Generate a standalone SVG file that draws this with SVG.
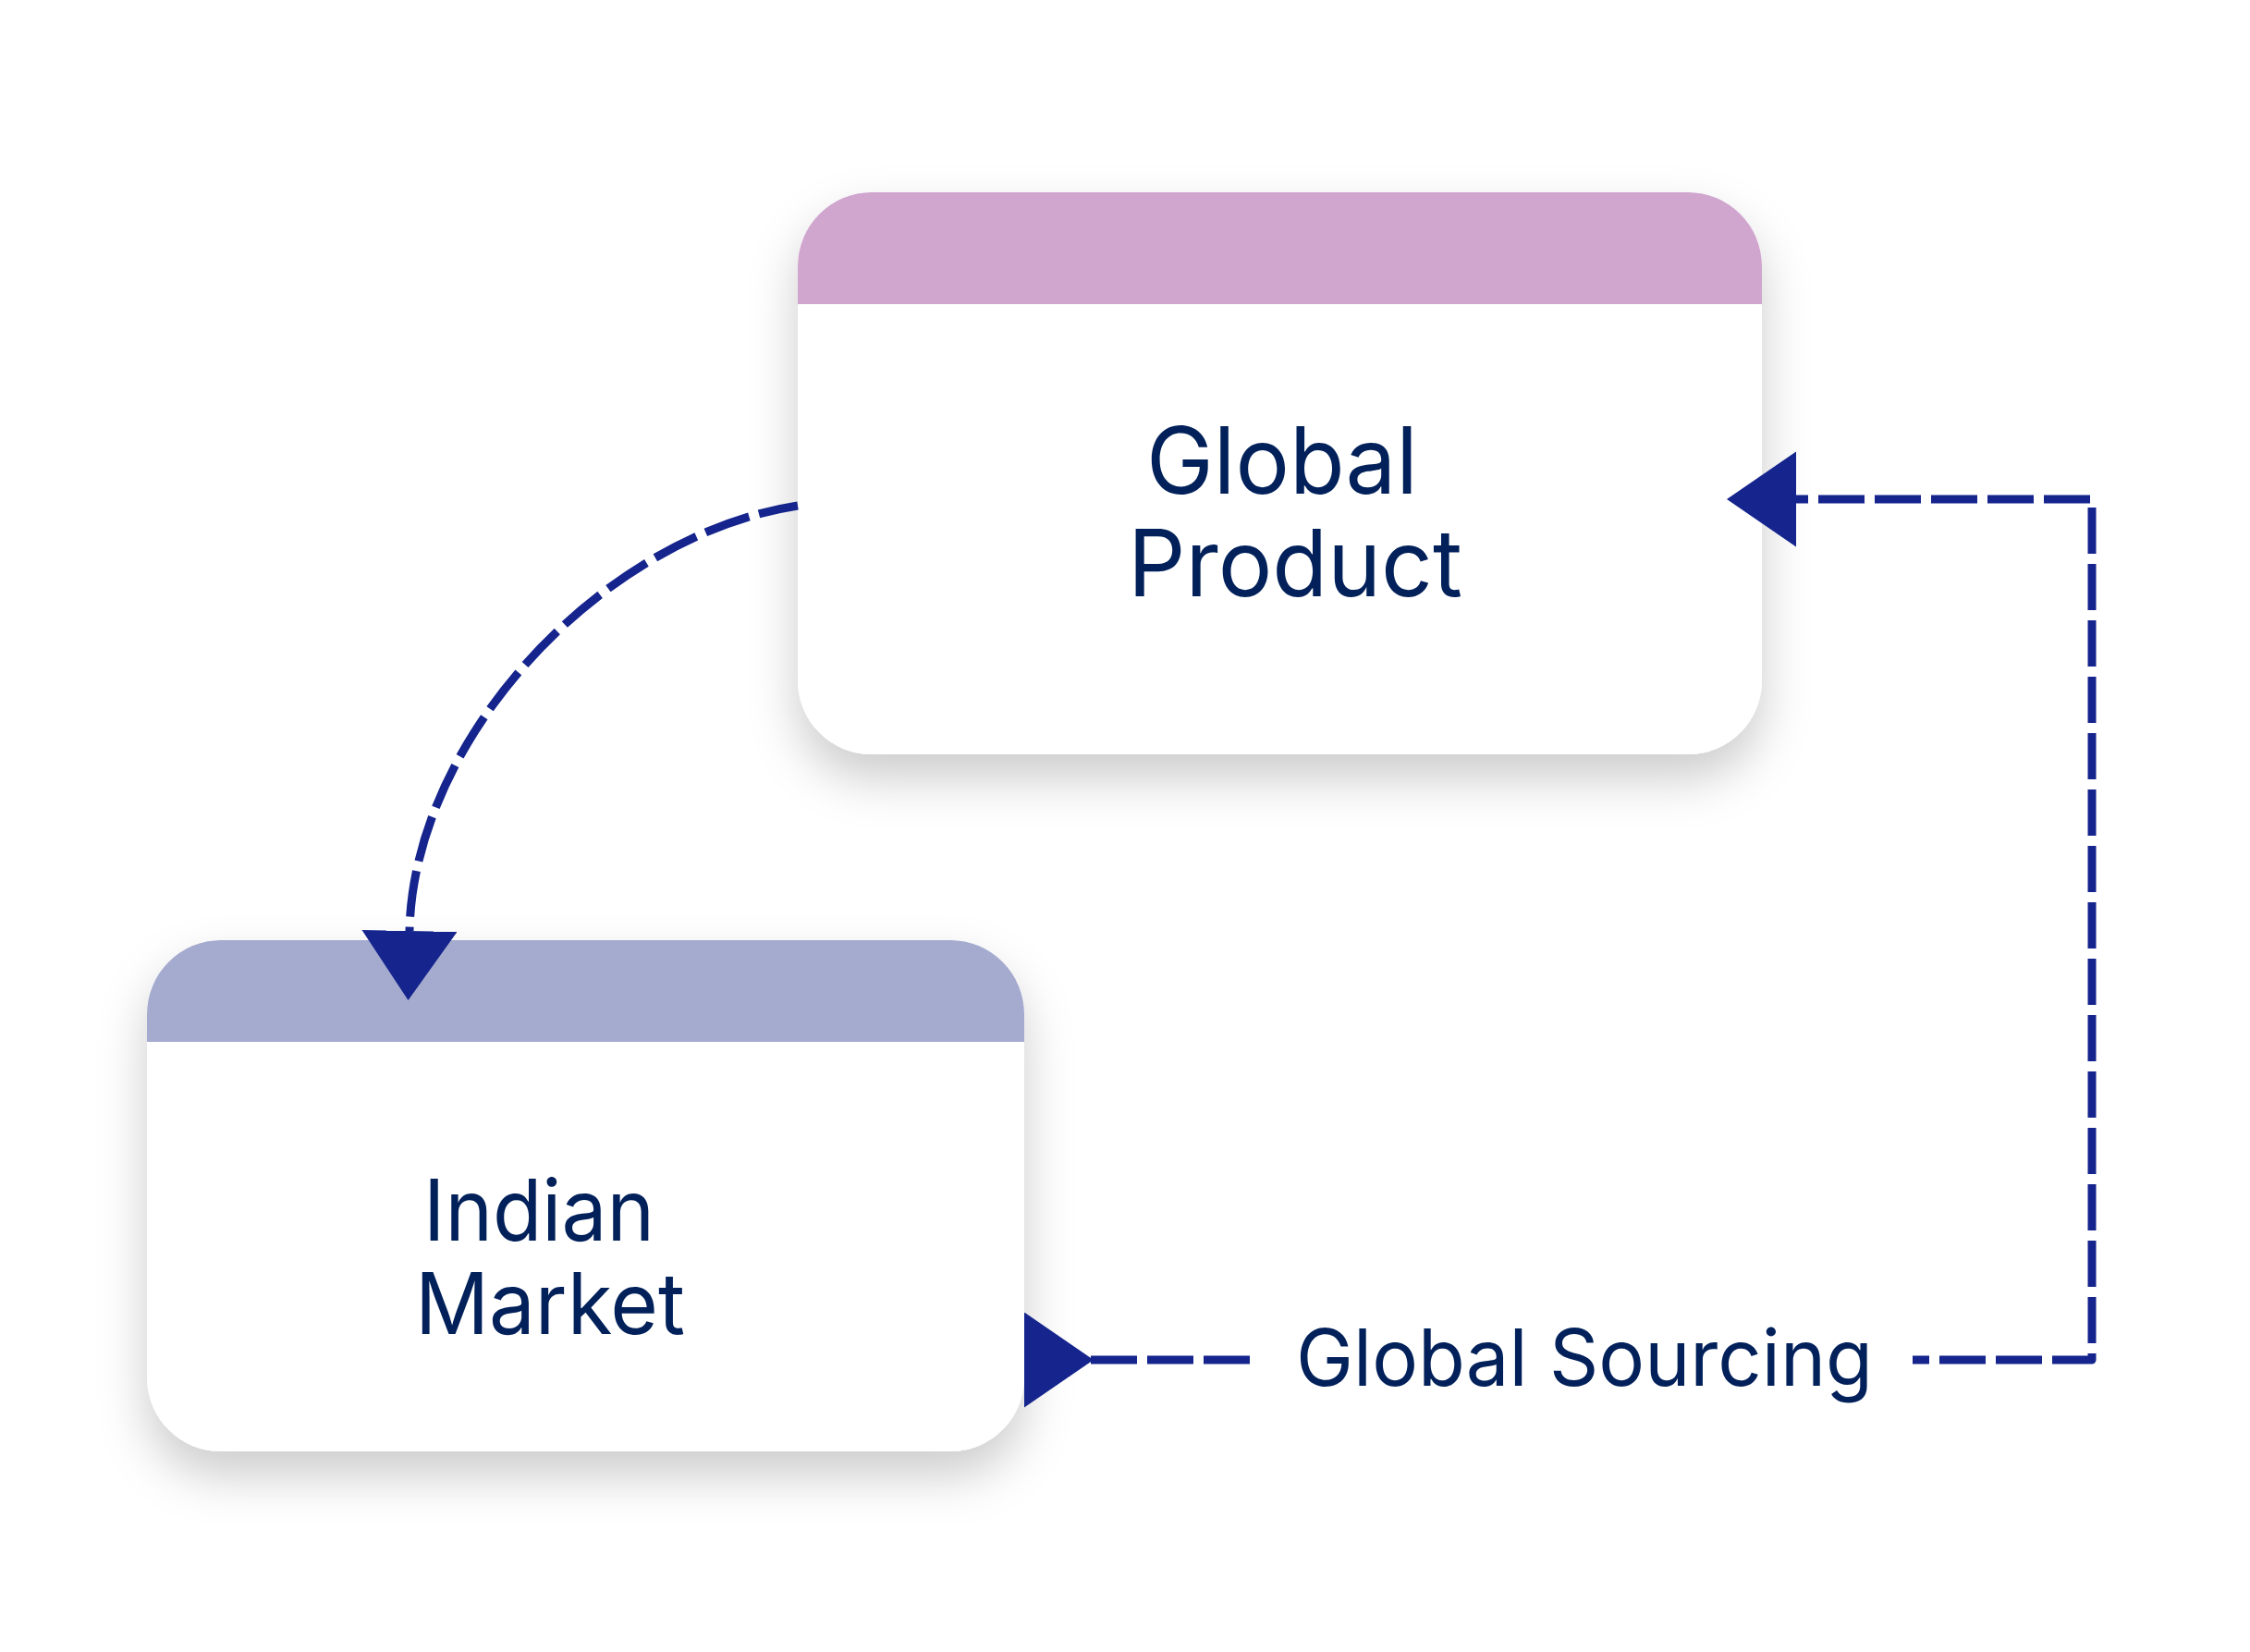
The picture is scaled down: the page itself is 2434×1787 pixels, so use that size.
<svg xmlns="http://www.w3.org/2000/svg" width="2434" height="1787" viewBox="0 0 2434 1787">
  <defs>
    <filter id="shadow" x="-20%" y="-20%" width="140%" height="160%">
      <feDropShadow dx="0" dy="26" stdDeviation="26" flood-color="#000000" flood-opacity="0.2"/>
    </filter>
    <marker id="arrow" markerUnits="userSpaceOnUse" markerWidth="80" markerHeight="110" refX="0" refY="51.5" orient="auto" viewBox="0 0 80 110">
      <path d="M0,0 L75,51.5 L0,103 Z" fill="#15258D"/>
    </marker>
    <style>
      .body { fill: #ffffff; }
      .label { font-family: Inter, "Liberation Sans", sans-serif; fill: #02215A; text-anchor: middle; }
      .edge { fill: none; stroke: #15258D; stroke-width: 9; stroke-dasharray: 50 11; stroke-linejoin: round; }
    </style>
  </defs>
  <rect width="2434" height="1787" fill="#ffffff"/>

  <g id="node-global-product">
    <rect class="body" x="863" y="208" width="1043" height="608" rx="80" ry="80" filter="url(#shadow)"/>
    <path d="M863,288 A80,80 0 0 1 943,208 H1826 A80,80 0 0 1 1906,288 V329 H863 Z" fill="#D0A6CF"/>
    <text class="label" font-size="100" x="1387" y="534" textLength="294" lengthAdjust="spacingAndGlyphs">Global</text>
    <text class="label" font-size="100" x="1401" y="645" textLength="362" lengthAdjust="spacingAndGlyphs">Product</text>
  </g>

  <g id="node-indian-market">
    <rect class="body" x="159" y="1017" width="949" height="553" rx="80" ry="80" filter="url(#shadow)"/>
    <path d="M159,1097 A80,80 0 0 1 239,1017 H1028 A80,80 0 0 1 1108,1097 V1127 H159 Z" fill="#A5ABCF"/>
    <text class="label" font-size="92" x="583" y="1342" textLength="250" lengthAdjust="spacingAndGlyphs">Indian</text>
    <text class="label" font-size="92" x="595" y="1443" textLength="292" lengthAdjust="spacingAndGlyphs">Market</text>
  </g>

  <g id="connectors">
    <path class="edge" d="M863,547 C650,580 447,800 443,1007" stroke-dashoffset="7" marker-end="url(#arrow)"/>
    <path class="edge" d="M1108,1471 H1353" stroke-dashoffset="50" marker-start="url(#arrow)"/>
    <path class="edge" d="M2069,1471 H2263 V540 H1943" stroke-dashoffset="32" marker-end="url(#arrow)"/>
    <text class="label" font-size="85" x="1714" y="1499" textLength="624" lengthAdjust="spacingAndGlyphs">Global Sourcing</text>
  </g>
</svg>
